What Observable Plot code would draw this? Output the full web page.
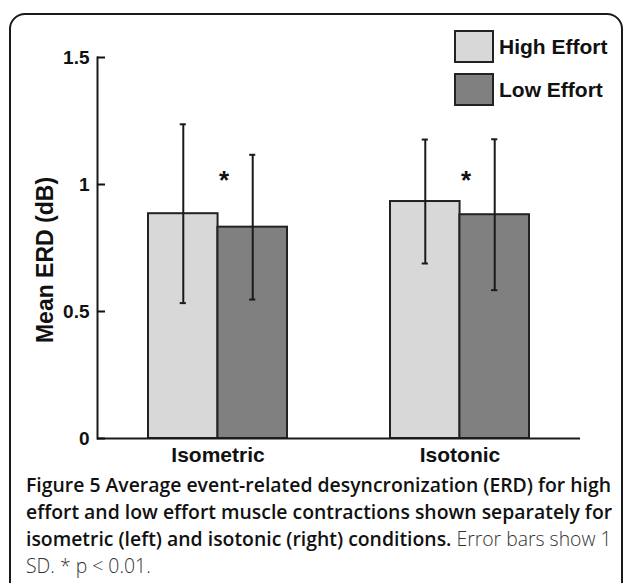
<!DOCTYPE html>
<html>
<head>
<meta charset="utf-8">
<script src="https://cdn.jsdelivr.net/npm/d3@7"></script>
<script src="https://cdn.jsdelivr.net/npm/@observablehq/plot@0.6"></script>
<style>
  html, body { margin: 0; padding: 0; background: #fff; }
  body { width: 627px; height: 583px; position: relative; overflow: hidden; font-family: "Liberation Sans", Arial, sans-serif; }
  #frame { position: absolute; left: 9px; top: 13px; width: 614px; height: 620px; border: 2px solid #1a1a1a; border-radius: 16px; box-sizing: border-box; }
  #chart { position: absolute; left: 0; top: 0; }
  #legend { position: absolute; left: 454px; top: 30px; }
  .item { position: relative; height: 43px; }
  .sw { position: absolute; left: 0; top: 0; width: 40px; height: 33px; border: 2px solid #222; box-sizing: border-box; }
  .lab { position: absolute; left: 45px; top: 3px; font: bold 21px "Liberation Sans", Arial, sans-serif; color: #111; white-space: nowrap; line-height: 28px; }
  #caption { position: absolute; left: 26px; top: 471px; font-family: "Open Sans", sans-serif; font-size: 19.4px; line-height: 27px; color: #111; white-space: nowrap; }
  #caption b { font-weight: 600; }
  #caption span.l { font-weight: 300; color: #333; }
</style>
</head>
<body>
<div id="frame"></div>
<div id="chart"></div>
<div id="legend"></div>
<div id="caption"></div>
<script>
// ---- data ----
const conditions = ["Isometric", "Isotonic"];
const series = ["High Effort", "Low Effort"];
const seriesColors = ["#d8d8d8", "#808080"];
const highMean = [0.885, 0.933];
const highSD = [0.352, 0.244];
const lowMean = [0.832, 0.881];
const lowSD = [0.285, 0.297];
const starLabel = ["*", "*"];
const starY = [1.03, 1.03];
const yTicks = [0, 0.5, 1, 1.5];
const yTickLabels = ["0", "0.5", "1", "1.5"];
const yLabel = "Mean ERD (dB)";
const captionBold = ["Figure 5 Average event-related desyncronization (ERD) for high", "effort and low effort muscle contractions shown separately for", "isometric (left) and isotonic (right) conditions."];
const captionLight = ["Error bars show 1", "SD. * p < 0.01."];

// ---- build ----
const W = 627, H = 470;
const mL = 97, mR = 47, mT = 57, mB = 32;
const pInner = 0.427, pOuter = 0.21;
const bw = d3.scaleBand().domain(conditions).range([mL, W - mR]).paddingInner(pInner).paddingOuter(pOuter).bandwidth();
const half = bw / 2;

const high = conditions.map((c, i) => ({condition: c, mean: highMean[i], lo: highMean[i] - highSD[i], hi: highMean[i] + highSD[i]}));
const low = conditions.map((c, i) => ({condition: c, mean: lowMean[i], lo: lowMean[i] - lowSD[i], hi: lowMean[i] + lowSD[i]}));
const stars = conditions.map((c, i) => ({condition: c, y: starY[i], t: starLabel[i]}));

const capInset = (bw - 6) / 2;
function errMarks(rows, dx) {
  return [
    Plot.ruleX(rows, {x: "condition", y1: "lo", y2: "hi", dx, stroke: "#1a1a1a", strokeWidth: 2}),
    Plot.tickY(rows, {x: "condition", y: "hi", dx, insetLeft: capInset, insetRight: capInset, stroke: "#1a1a1a", strokeWidth: 2}),
    Plot.tickY(rows, {x: "condition", y: "lo", dx, insetLeft: capInset, insetRight: capInset, stroke: "#1a1a1a", strokeWidth: 2})
  ];
}

const chart = Plot.plot({
  width: W, height: H,
  marginLeft: mL, marginRight: mR, marginTop: mT, marginBottom: mB,
  style: {fontFamily: "'Liberation Sans', Arial, sans-serif", color: "#111", background: "transparent"},
  x: {domain: conditions, paddingInner: pInner, paddingOuter: pOuter, label: null},
  y: {domain: [0, 1.5], label: null},
  marks: [
    Plot.barY(high, {x: "condition", y1: 0, y2: "mean", fill: seriesColors[0], stroke: "#222", strokeWidth: 2, insetRight: half}),
    Plot.barY(low, {x: "condition", y1: 0, y2: "mean", fill: seriesColors[1], stroke: "#222", strokeWidth: 2, insetLeft: half}),
    ...errMarks(high, -half / 2),
    ...errMarks(low, half / 2),
    Plot.text(stars, {x: "condition", y: "y", text: "t", dx: 6, dy: 4, fontSize: 26, fontWeight: "bold", fill: "#111"}),
    Plot.ruleY([0], {stroke: "#1a1a1a", strokeWidth: 2}),
    Plot.frame({anchor: "left", stroke: "#1a1a1a", strokeWidth: 2}),
    Plot.axisY({ticks: yTicks, tickFormat: (d, i) => yTickLabels[i], tickSize: -8, tickPadding: 16, strokeWidth: 2, fontSize: 19, fontWeight: "bold", label: null}),
    Plot.axisX({tickSize: 0, tickPadding: 9, fontSize: 21, fontWeight: "bold", label: null}),
    Plot.text([yLabel], {frameAnchor: "left", textAnchor: "middle", rotate: -90, dx: -52, dy: 12, fontSize: 23, fontWeight: "bold", fill: "#111"})
  ]
});
document.getElementById("chart").appendChild(chart);

// legend
const lg = document.getElementById("legend");
series.forEach((s, i) => {
  const it = document.createElement("div");
  it.className = "item";
  const sw = document.createElement("div");
  sw.className = "sw"; sw.style.background = seriesColors[i];
  const lb = document.createElement("div");
  lb.className = "lab"; lb.textContent = s;
  it.appendChild(sw); it.appendChild(lb);
  lg.appendChild(it);
});

// caption
const cap = document.getElementById("caption");
cap.innerHTML = "<b>" + captionBold[0] + "</b><br><b>" + captionBold[1] + "</b><br><b>" + captionBold[2] + "</b> <span class='l'>" + captionLight[0] + "</span><br><span class='l'>" + captionLight[1].replace("<", "&lt;") + "</span>";
</script>
</body>
</html>
